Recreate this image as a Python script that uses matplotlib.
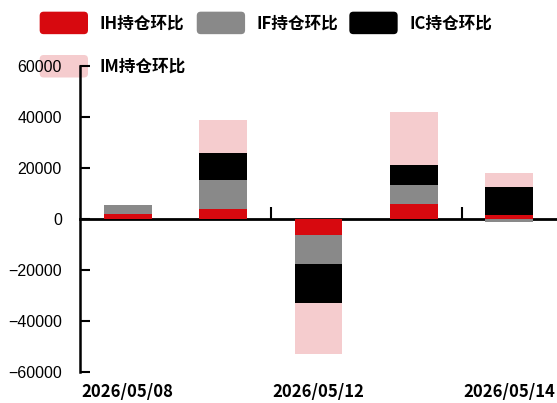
import matplotlib
matplotlib.use("Agg")
import matplotlib.pyplot as plt
import numpy as np
from matplotlib.legend_handler import HandlerPatch
from matplotlib.patches import FancyBboxPatch, Patch

dates = ["2026/05/08", "2026/05/11", "2026/05/12", "2026/05/13", "2026/05/14"]
series_names = ["IH持仓环比", "IF持仓环比", "IC持仓环比", "IM持仓环比"]
ih = [1950, 3800, -6150, 5750, 1400]
if_ = [3500, 11400, -11500, 7700, -1200]
ic = [0, 10700, -15400, 7850, 11100]
im = [0, 12900, -19900, 20800, 5650]
colors = ["#D7090F", "#898989", "#000000", "#F5CCCE"]

cjk = ["Noto Sans CJK SC", "DejaVu Sans"]

fig = plt.figure(figsize=(5.57, 4.03), dpi=100)
ax = fig.add_axes([80 / 557, 31 / 403, 477 / 557, 306 / 403])
ax.patch.set_visible(False)

x = np.arange(len(dates))
pos_bottom = np.zeros(len(dates))
neg_bottom = np.zeros(len(dates))
handles = []
for vals, name, col in zip([ih, if_, ic, im], series_names, colors):
    v = np.array(vals, dtype=float)
    bottoms = np.where(v >= 0, pos_bottom, neg_bottom)
    ax.bar(x, v, width=0.5, bottom=bottoms, color=col, edgecolor="none", zorder=2)
    pos_bottom = pos_bottom + np.where(v >= 0, v, 0)
    neg_bottom = neg_bottom + np.where(v < 0, v, 0)
    handles.append(Patch(facecolor=col, label=name))

ax.set_xlim(-0.5, len(dates) - 0.5)
ax.set_ylim(-60000, 60000)
ax.set_yticks([-60000, -40000, -20000, 0, 20000, 40000, 60000])
ax.set_yticklabels(["−60000", "−40000", "−20000", "0", "20000", "40000", "60000"])
for lab in ax.get_yticklabels():
    lab.set_fontfamily("Liberation Sans")
    lab.set_fontsize(11.5)
ax.tick_params(axis="y", direction="in", length=7, width=1.5, pad=13)

ax.set_xticks(x[::2])
ax.set_xticklabels(dates[::2], fontfamily=cjk, fontsize=12, fontweight="bold")
ax.tick_params(axis="x", length=0, pad=8)

for s in ["top", "right", "bottom"]:
    ax.spines[s].set_visible(False)
ax.spines["left"].set_linewidth(1.8)

sec = ax.secondary_xaxis(0.5)
sec.set_xticks([1.5, 3.5])
sec.tick_params(direction="out", length=9, width=1.5, labelbottom=False, labeltop=False)
sec.set_xticklabels([])
for s in sec.spines.values():
    s.set_linewidth(2.0)


class RoundHandler(HandlerPatch):
    def create_artists(self, legend, orig_handle, xdescent, ydescent, width, height, fontsize, trans):
        p = FancyBboxPatch((-xdescent, -ydescent), width, height,
                           boxstyle="round,pad=0,rounding_size=%f" % (0.18 * height),
                           facecolor=orig_handle.get_facecolor(), edgecolor="none",
                           transform=trans)
        return [p]


order = [handles[0], handles[3], handles[1], handles[2]]
leg = fig.legend(handles=order, labels=[h.get_label() for h in order], ncol=3,
                 loc="upper left", bbox_to_anchor=(28 / 557, 1.0),
                 frameon=False, prop={"family": cjk, "size": 12, "weight": "bold"},
                 handlelength=2.9, handleheight=1.7, handletextpad=0.7,
                 columnspacing=0.65, labelspacing=1.25, borderaxespad=0.3,
                 handler_map={Patch: RoundHandler()})
leg.set_zorder(-1)

fig.savefig("out.png", dpi=100)
